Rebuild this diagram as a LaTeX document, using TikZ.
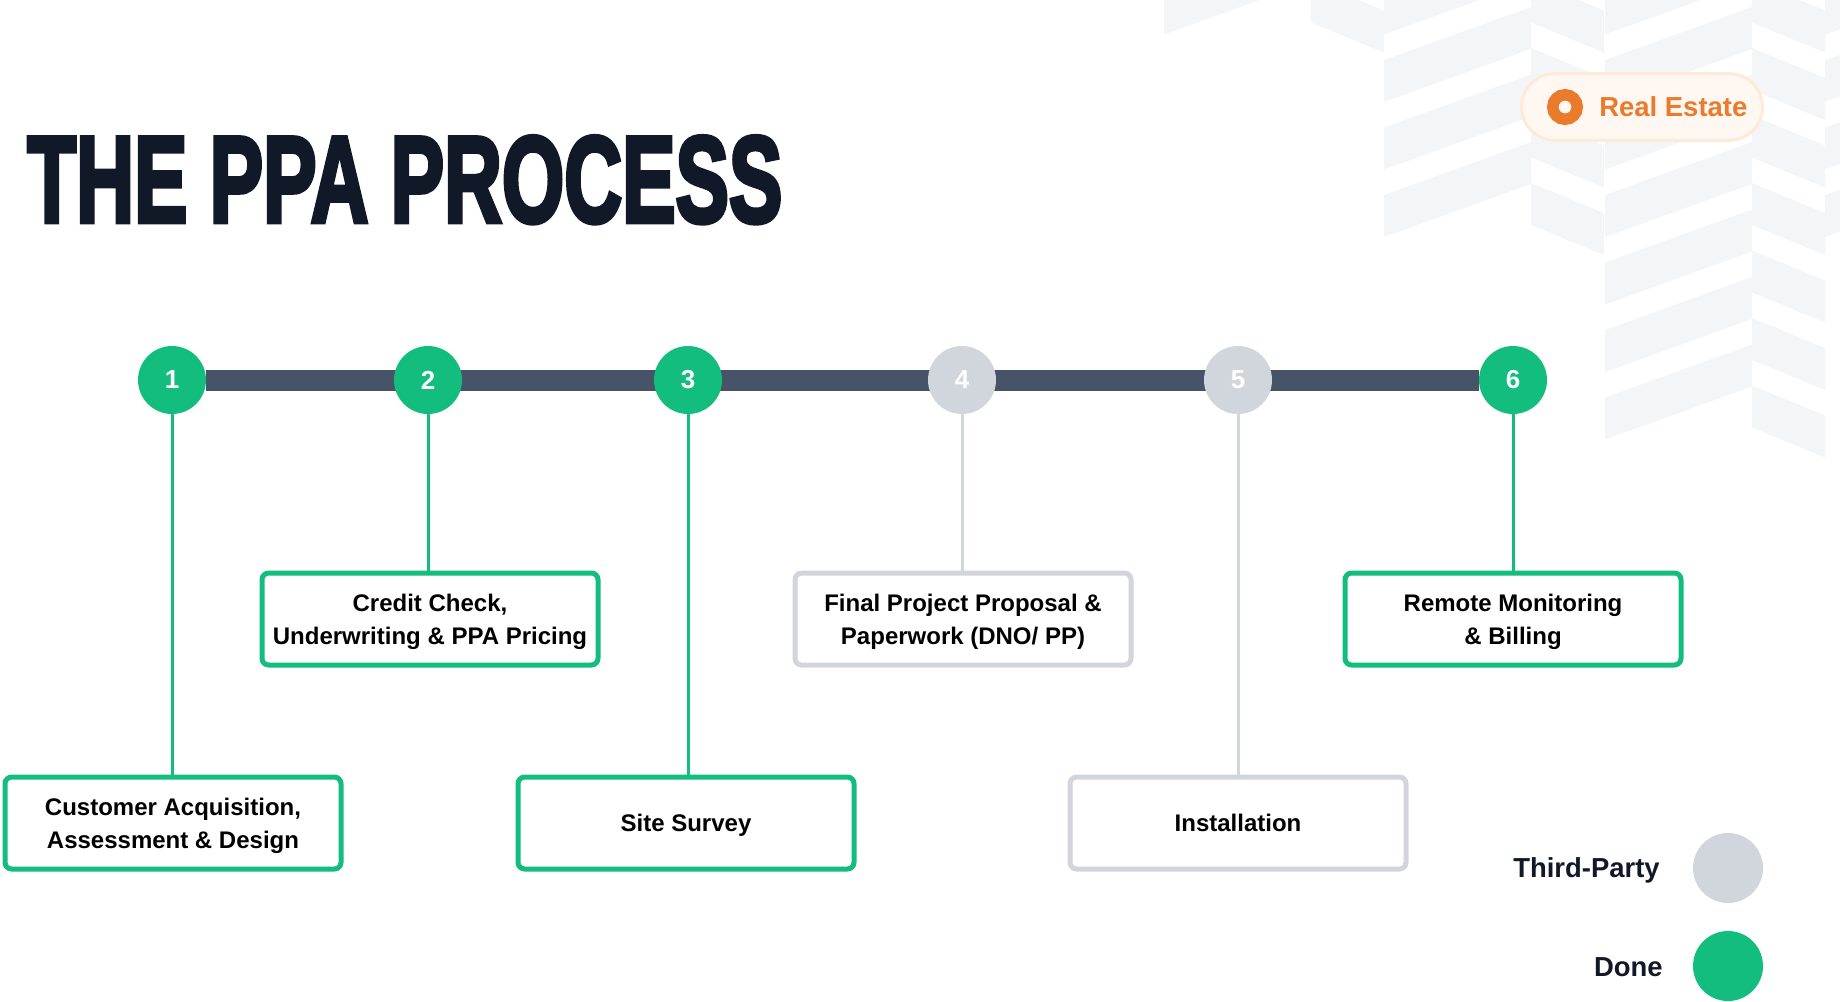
\documentclass[tikz,border=0pt]{standalone}
\usepackage{fontspec}
\setmainfont{Liberation Sans}
\newfontfamily\titlefont{Liberation Sans}[FakeBold=4]
\usetikzlibrary{backgrounds}
\definecolor{done}{HTML}{12BD7E}
\definecolor{third}{HTML}{D1D5DC}
\definecolor{barcol}{HTML}{475467}
\definecolor{ink}{HTML}{111827}
\definecolor{chev}{HTML}{F4F5F7}
\definecolor{estate}{HTML}{EA7B2C}
\definecolor{estatebg}{HTML}{FFF7F2}
\definecolor{estateline}{HTML}{FDEBD9}
\begin{document}
\begin{tikzpicture}[x=0.75pt,y=-0.75pt]
            %
            % `stepdot' is used for the numbered circles on the timeline.
            % `stepbox' is used for the step labels below the timeline.
            % `link' is used for the drop lines from circle to box.
            % `legend' is used for the key texts at the bottom right.
            \tikzstyle{stepdot} = [circle,minimum size=51pt,inner sep=0pt,text=white,font=\bfseries\fontsize{19.5}{20}\selectfont]
            \tikzstyle{donedot} = [stepdot,fill=done]
            \tikzstyle{thirddot} = [stepdot,fill=third]
            \tikzstyle{stepbox} = [draw,line width=3.75pt,rounded corners=5pt,fill=white,minimum width=252pt,minimum height=69pt,align=center,inner sep=0pt,text depth=0pt,font=\bfseries\fontsize{18}{24.75}\selectfont]
            \tikzstyle{donebox} = [stepbox,draw=done]
            \tikzstyle{thirdbox} = [stepbox,draw=third]
            \tikzstyle{link} = [line width=2.25pt]
            \tikzstyle{legend} = [anchor=base east,inner sep=0pt,text=ink,font=\bfseries\fontsize{20.6}{22}\selectfont]
            \useasboundingbox (0,0) rectangle (1840,1001);
            %
            % Title
            \node[anchor=base west,inner sep=0pt,text=ink] (title) at (27,222) {\titlefont\bfseries\fontsize{92}{92}\selectfont\scalebox{0.653}[1]{THE PPA PROCESS}};
            %
            % Badge
            \node[draw=estateline,fill=estatebg,line width=2.25pt,rounded corners=25pt,minimum width=180.75pt,minimum height=50pt] (badge) at (1642,107) {};
            \node[circle,draw=estate,line width=8.6pt,minimum size=18.4pt,inner sep=0pt] (ring) at (1565,107) {};
            \node[anchor=base west,inner sep=0pt,text=estate,font=\bfseries\fontsize{20.6}{22}\selectfont] (estate) at (1599,116) {Real Estate};
            %
            % Timeline
            \node[donedot] (s1) at (172,380) {1};
            \node[donedot] (s2) at (428,380) {2};
            \node[donedot] (s3) at (688,380) {3};
            \node[thirddot] (s4) at (962,380) {4};
            \node[thirddot] (s5) at (1238,380) {5};
            \node[donedot] (s6) at (1513,380) {6};
            %
            % Steps
            \node[donebox] (b1) at (173,823) {Customer Acquisition,\\Assessment \& Design};
            \node[donebox] (b2) at (430,619) {Credit Check,\\Underwriting \& PPA Pricing};
            \node[donebox] (b3) at (686,823) {Site Survey};
            \node[thirdbox] (b4) at (963,619) {Final Project Proposal \&\\Paperwork (DNO/ PP)};
            \node[thirdbox] (b5) at (1238,823) {Installation};
            \node[donebox] (b6) at (1513,619) {Remote Monitoring\\\& Billing};
            %
            % Drop lines
            \draw[link,done] (s1.south) -- (s1.south |- b1.north);
            \draw[link,done] (s2.south) -- (s2.south |- b2.north);
            \draw[link,done] (s3.south) -- (s3.south |- b3.north);
            \draw[link,third] (s4.south) -- (s4.south |- b4.north);
            \draw[link,third] (s5.south) -- (s5.south |- b5.north);
            \draw[link,done] (s6.south) -- (s6.south |- b6.north);
            %
            % Legend
            \node[thirddot,minimum size=52.5pt] (key1) at (1728,868) {};
            \node[donedot,minimum size=52.5pt] (key2) at (1728,966) {};
            \node[legend] (key1t) at (1660,877) {Third-Party};
            \node[legend] (key2t) at (1663,976) {Done};
            %
            % Background stripes and bar
            \begin{scope}[on background layer]
            \foreach \x/\n in {1164/0,1384/3,1605/6,1825/3}
              \foreach \k in {0,...,\n}
                \fill[chev] (\x,-7.5+67.5*\k) -- (\x+147,-60.5+67.5*\k) -- (\x+147,-18.5+67.5*\k) -- (\x,34.5+67.5*\k) -- cycle;
            \foreach \x/\n in {1311/0,1531/3,1752/6}
              \foreach \k in {0,...,\n}
                \fill[chev] (\x,-19.5+67.5*\k) -- (\x+73,10.5+67.5*\k) -- (\x+73,52.5+67.5*\k) -- (\x,22.5+67.5*\k) -- cycle;
            \draw[barcol,line width=15.75pt] (s1) -- (s6);
            \end{scope}
\end{tikzpicture}
\end{document}
